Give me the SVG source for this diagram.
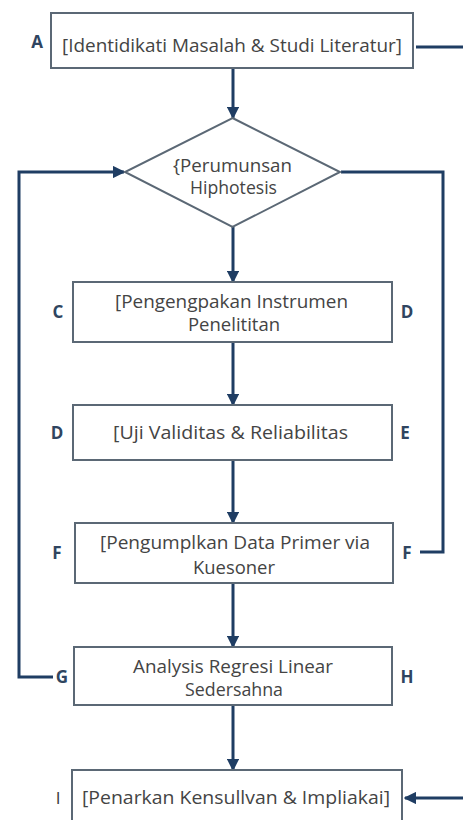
<svg xmlns="http://www.w3.org/2000/svg" width="463" height="820" viewBox="0 0 463 820">
<defs>
<marker id="ah" viewBox="0 0 10 10" refX="9" refY="5" markerWidth="4.2" markerHeight="4.2" markerUnits="strokeWidth" orient="auto">
<path d="M0,0 L10,5 L0,10 z" fill="#1f3d63"/>
</marker>
<style>
.box{fill:#ffffff;stroke:#5b6875;stroke-width:2}
.t{font-family:"Open Sans","Liberation Sans",sans-serif;font-size:18px;fill:#444444;text-anchor:middle}
.lb{font-family:"Open Sans","Liberation Sans",sans-serif;font-size:17px;font-weight:bold;fill:#2f4560;text-anchor:middle}
.c{fill:none;stroke:#1f3d63;stroke-width:3}
.ca{fill:none;stroke:#1f3d63;stroke-width:3;marker-end:url(#ah)}
</style>
</defs>
<rect width="463" height="820" fill="#ffffff"/>
<g id="connectors">
<line class="c" x1="416" y1="47" x2="463" y2="47"/>
<line class="ca" x1="233" y1="69" x2="233" y2="118"/>
<line class="ca" x1="233" y1="227" x2="233" y2="282"/>
<line class="ca" x1="233" y1="343" x2="233" y2="405"/>
<line class="ca" x1="233" y1="461" x2="233" y2="523"/>
<line class="ca" x1="233" y1="584" x2="233" y2="647"/>
<line class="ca" x1="233" y1="706" x2="233" y2="770"/>
<polyline class="ca" points="53,677 19,677 19,172 124,172"/>
<polyline class="c" points="341,172 443,172 443,552 420,552"/>
<line class="ca" x1="463" y1="798" x2="405" y2="798"/>
</g>
<g id="nodeA">
<rect class="box" x="51" y="13" width="362" height="55"/>
<text class="t" x="232" y="52" textLength="340" lengthAdjust="spacingAndGlyphs">[Identidikati Masalah &amp; Studi Literatur]</text>
<text class="lb" x="37" y="48">A</text>
</g>
<g id="nodeB">
<polygon class="box" points="232.5,118 340,172 232.5,227 125,172"/>
<text class="t" x="232.5" y="172" textLength="119" lengthAdjust="spacingAndGlyphs">{Perumunsan</text>
<text class="t" x="233.5" y="194" textLength="87" lengthAdjust="spacingAndGlyphs">Hiphotesis</text>
</g>
<g id="nodeC">
<rect class="box" x="73" y="282" width="319" height="60"/>
<text class="t" x="231.5" y="308" textLength="233" lengthAdjust="spacingAndGlyphs">[Pengengpakan Instrumen</text>
<text class="t" x="234" y="331" textLength="92" lengthAdjust="spacingAndGlyphs">Penelititan</text>
<text class="lb" x="58" y="318">C</text>
<text class="lb" x="407" y="318">D</text>
</g>
<g id="nodeD">
<rect class="box" x="73" y="405" width="319" height="55"/>
<text class="t" x="230.5" y="439" textLength="235" lengthAdjust="spacingAndGlyphs">[Uji Validitas &amp; Reliabilitas</text>
<text class="lb" x="57" y="439">D</text>
<text class="lb" x="405" y="439">E</text>
</g>
<g id="nodeF">
<rect class="box" x="75" y="523" width="318" height="60"/>
<text class="t" x="235" y="549" textLength="270" lengthAdjust="spacingAndGlyphs">[Pengumplkan Data Primer via</text>
<text class="t" x="234" y="574" textLength="82" lengthAdjust="spacingAndGlyphs">Kuesoner</text>
<text class="lb" x="57" y="559">F</text>
<text class="lb" x="407" y="559">F</text>
</g>
<g id="nodeG">
<rect class="box" x="74" y="647" width="318" height="58"/>
<text class="t" x="233" y="673" textLength="200" lengthAdjust="spacingAndGlyphs">Analysis Regresi Linear</text>
<text class="t" x="234" y="696" textLength="98" lengthAdjust="spacingAndGlyphs">Sedersahna</text>
<text class="lb" x="62" y="683">G</text>
<text class="lb" x="407" y="683">H</text>
</g>
<g id="nodeI">
<rect class="box" x="72" y="770" width="330" height="60"/>
<text class="t" x="236" y="804" textLength="308" lengthAdjust="spacingAndGlyphs">[Penarkan Kensullvan &amp; Impliakai]</text>
<text class="lb" x="58" y="804" style="font-weight:normal;fill:#3a3a3a">I</text>
</g>
</svg>
